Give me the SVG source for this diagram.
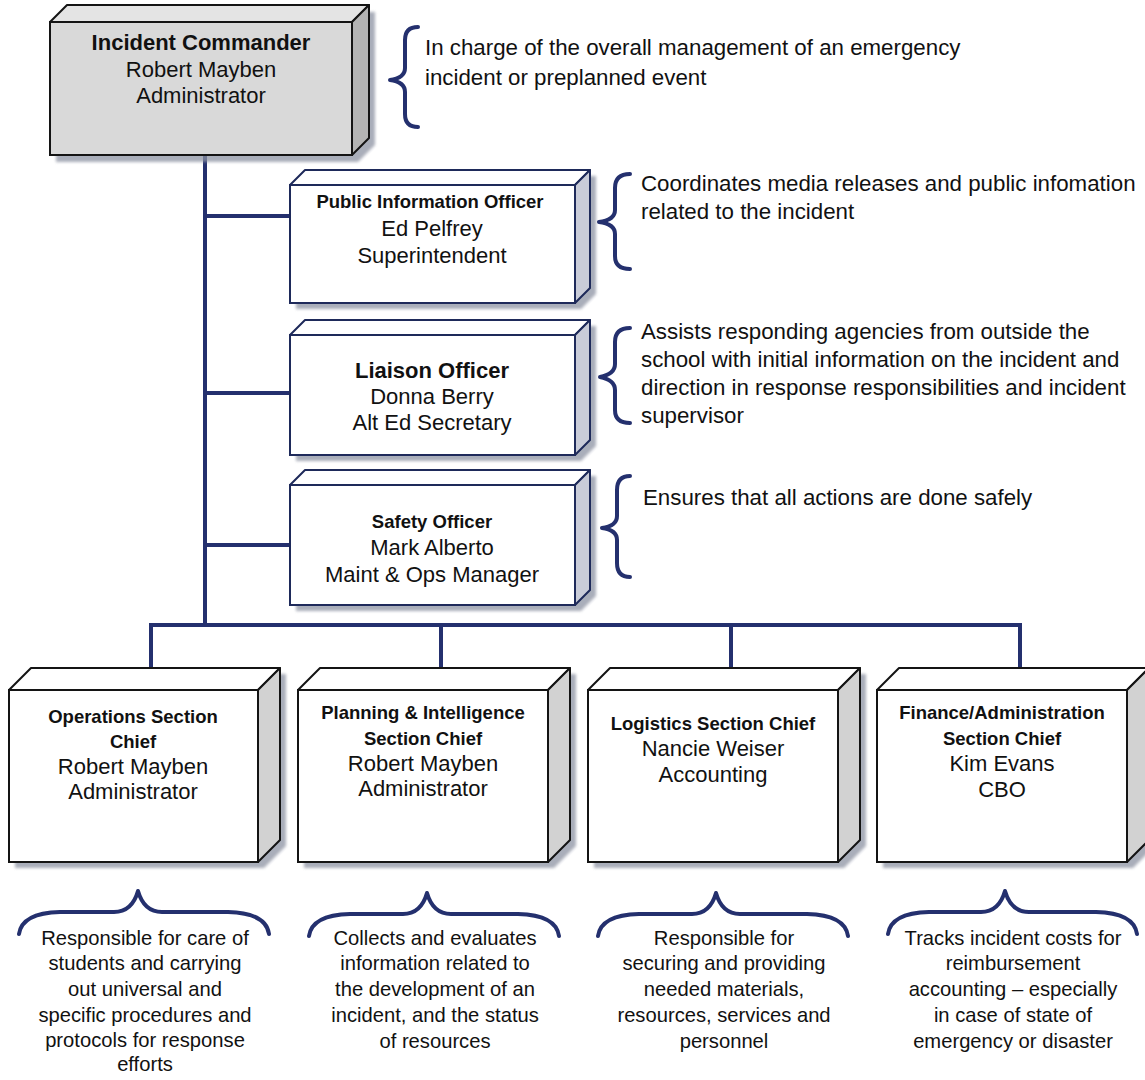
<svg xmlns="http://www.w3.org/2000/svg" width="1145" height="1080" viewBox="0 0 1145 1080">
<style>
text{font-family:"Liberation Sans",Arial,sans-serif;fill:#111}
.b{font-weight:bold;font-size:18.5px;text-anchor:middle}
.bl{font-weight:bold;font-size:22px;text-anchor:middle}
.n{font-size:22px;text-anchor:middle}
.d{font-size:22.3px}
.bd{font-size:20.2px;text-anchor:middle}
.front{fill:#fff;stroke:#141414;stroke-width:2}
.top{fill:#fff;stroke:#141414;stroke-width:2;stroke-linejoin:round}
.side{fill:#d2d2d2;stroke:#141414;stroke-width:2;stroke-linejoin:round}
.ofront{fill:#fff;stroke:#1e2a5a;stroke-width:2}
.otop{fill:#fff;stroke:#1e2a5a;stroke-width:2;stroke-linejoin:round}
.oside{fill:#c9ccd8;stroke:#1e2a5a;stroke-width:2;stroke-linejoin:round}
.shadow{fill:#8d93a3;opacity:0.75;filter:url(#blur)}
.conn{fill:none;stroke:#24306e;stroke-width:4}
.brace{fill:none;stroke:#24306e;stroke-width:4;stroke-linecap:round;stroke-linejoin:round}
</style>
<defs>
<filter id="blur" x="-10%" y="-10%" width="120%" height="120%"><feGaussianBlur stdDeviation="1.5"/></filter>
</defs>
<rect width="1145" height="1080" fill="#fff"/>

<g id="connectors">
<path class="conn" d="M205,155 V625"/>
<path class="conn" d="M205,216 H290"/>
<path class="conn" d="M205,393 H290"/>
<path class="conn" d="M205,545 H290"/>
<path class="conn" d="M151,668 V625 H1020 V668"/>
<path class="conn" d="M441,625 V668"/>
<path class="conn" d="M731,625 V668"/>
</g>

<g id="incident-commander">
<polygon class="shadow" points="56,29 73,12 375,12 375,145 358,162 56,162"/>
<polygon class="top" style="fill:#e4e4e4" points="50,22 67,5 369,5 352,22"/>
<polygon class="side" style="fill:#b4b4b4" points="352,22 369,5 369,138 352,155"/>
<rect class="front" style="fill:#d9d9d9" x="50" y="22" width="302" height="133"/>
<text class="bl" x="201" y="50">Incident Commander</text>
<text class="n" x="201" y="77">Robert Mayben</text>
<text class="n" x="201" y="103">Administrator</text>
</g>

<g id="public-information-officer">
<polygon class="shadow" points="296,191 311,176 596,176 596,294 581,309 296,309"/>
<polygon class="otop" points="290,185 305,170 590,170 575,185"/>
<polygon class="oside" points="575,185 590,170 590,288 575,303"/>
<rect class="ofront" x="290" y="185" width="285" height="118"/>
<text class="b" x="430" y="208">Public Information Officer</text>
<text class="n" x="432" y="236">Ed Pelfrey</text>
<text class="n" x="432" y="263">Superintendent</text>
</g>

<g id="liaison-officer">
<polygon class="shadow" points="296,341 311,326 596,326 596,446 581,461 296,461"/>
<polygon class="otop" points="290,335 305,320 590,320 575,335"/>
<polygon class="oside" points="575,335 590,320 590,440 575,455"/>
<rect class="ofront" x="290" y="335" width="285" height="120"/>
<text class="bl" x="432" y="378">Liaison Officer</text>
<text class="n" x="432" y="404">Donna Berry</text>
<text class="n" x="432" y="430">Alt Ed Secretary</text>
</g>

<g id="safety-officer">
<polygon class="shadow" points="296,491 311,476 596,476 596,596 581,611 296,611"/>
<polygon class="otop" points="290,485 305,470 590,470 575,485"/>
<polygon class="oside" points="575,485 590,470 590,590 575,605"/>
<rect class="ofront" x="290" y="485" width="285" height="120"/>
<text class="b" x="432" y="528">Safety Officer</text>
<text class="n" x="432" y="555">Mark Alberto</text>
<text class="n" x="432" y="582">Maint &amp; Ops Manager</text>
</g>

<g id="operations-section-chief">
<polygon class="shadow" points="15,696 37,674 286,674 286,846 264,868 15,868"/>
<polygon class="top" points="9,690 31,668 280,668 258,690"/>
<polygon class="side" points="258,690 280,668 280,840 258,862"/>
<rect class="front" x="9" y="690" width="249" height="172"/>
<text class="b" x="133" y="723">Operations Section</text>
<text class="b" x="133" y="748">Chief</text>
<text class="n" x="133" y="774">Robert Mayben</text>
<text class="n" x="133" y="799">Administrator</text>
</g>

<g id="planning-intelligence-section-chief">
<polygon class="shadow" points="304,696 326,674 576,674 576,846 554,868 304,868"/>
<polygon class="top" points="298,690 320,668 570,668 548,690"/>
<polygon class="side" points="548,690 570,668 570,840 548,862"/>
<rect class="front" x="298" y="690" width="250" height="172"/>
<text class="b" x="423" y="719">Planning &amp; Intelligence</text>
<text class="b" x="423" y="745">Section Chief</text>
<text class="n" x="423" y="771">Robert Mayben</text>
<text class="n" x="423" y="796">Administrator</text>
</g>

<g id="logistics-section-chief">
<polygon class="shadow" points="594,696 616,674 866,674 866,846 844,868 594,868"/>
<polygon class="top" points="588,690 610,668 860,668 838,690"/>
<polygon class="side" points="838,690 860,668 860,840 838,862"/>
<rect class="front" x="588" y="690" width="250" height="172"/>
<text class="b" x="713" y="730">Logistics Section Chief</text>
<text class="n" x="713" y="756">Nancie Weiser</text>
<text class="n" x="713" y="782">Accounting</text>
</g>

<g id="finance-administration-section-chief">
<polygon class="shadow" points="883,696 905,674 1155,674 1155,846 1133,868 883,868"/>
<polygon class="top" points="877,690 899,668 1149,668 1127,690"/>
<polygon class="side" points="1127,690 1149,668 1149,840 1127,862"/>
<rect class="front" x="877" y="690" width="250" height="172"/>
<text class="b" x="1002" y="719">Finance/Administration</text>
<text class="b" x="1002" y="745">Section Chief</text>
<text class="n" x="1002" y="771">Kim Evans</text>
<text class="n" x="1002" y="797">CBO</text>
</g>

<g id="incident-commander-note">
<path class="brace" d="M418,27 Q405,27 405,40 L405,68 Q405,78 390,80 Q405,82 405,92 L405,114 Q405,127 418,127"/>
<text class="d" x="425" y="55">In charge of the overall management of an emergency</text>
<text class="d" x="425" y="85">incident or preplanned event</text>
</g>

<g id="pio-note">
<path class="brace" d="M630,174 Q615,174 615,188 L615,210 Q615,220 599,222 Q615,224 615,234 L615,256 Q615,269 630,269"/>
<text class="d" x="641" y="191">Coordinates media releases and public infomation</text>
<text class="d" x="641" y="219">related to the incident</text>
</g>

<g id="liaison-note">
<path class="brace" d="M630,328 Q615,328 615,342 L615,364 Q615,374 600,377 Q615,380 615,390 L615,410 Q615,423 630,423"/>
<text class="d" x="641" y="339">Assists responding agencies from outside the</text>
<text class="d" x="641" y="367">school with initial information on the incident and</text>
<text class="d" x="641" y="395">direction in response responsibilities and incident</text>
<text class="d" x="641" y="423">supervisor</text>
</g>

<g id="safety-note">
<path class="brace" d="M630,476 Q617,476 617,490 L617,516 Q617,526 602,528 Q617,530 617,540 L617,563 Q617,577 630,577"/>
<text class="d" x="643" y="505">Ensures that all actions are done safely</text>
</g>

<g id="operations-note">
<path class="brace" d="M19,934 Q22,913 60,912 L114,912 Q132,912 138,891 Q144,912 162,912 L228,912 Q266,913 269,934"/>
<text class="bd" x="145" y="945">Responsible for care of</text>
<text class="bd" x="145" y="970">students and carrying</text>
<text class="bd" x="145" y="996">out universal and</text>
<text class="bd" x="145" y="1022">specific procedures and</text>
<text class="bd" x="145" y="1047">protocols for response</text>
<text class="bd" x="145" y="1071">efforts</text>
</g>

<g id="planning-note">
<path class="brace" d="M309,936 Q312,915 350,914 L403,914 Q421,914 427,893 Q433,914 451,914 L518,914 Q556,915 559,936"/>
<text class="bd" x="435" y="945">Collects and evaluates</text>
<text class="bd" x="435" y="970">information related to</text>
<text class="bd" x="435" y="996">the development of an</text>
<text class="bd" x="435" y="1022">incident, and the status</text>
<text class="bd" x="435" y="1048">of resources</text>
</g>

<g id="logistics-note">
<path class="brace" d="M598,936 Q601,915 639,914 L692,914 Q710,914 716,893 Q722,914 740,914 L807,914 Q845,915 848,936"/>
<text class="bd" x="724" y="945">Responsible for</text>
<text class="bd" x="724" y="970">securing and providing</text>
<text class="bd" x="724" y="996">needed materials,</text>
<text class="bd" x="724" y="1022">resources, services and</text>
<text class="bd" x="724" y="1048">personnel</text>
</g>

<g id="finance-note">
<path class="brace" d="M888,934 Q891,913 929,912 L981,912 Q999,912 1005,891 Q1011,912 1029,912 L1096,912 Q1134,913 1137,934"/>
<text class="bd" x="1013" y="945">Tracks incident costs for</text>
<text class="bd" x="1013" y="970">reimbursement</text>
<text class="bd" x="1013" y="996">accounting – especially</text>
<text class="bd" x="1013" y="1022">in case of state of</text>
<text class="bd" x="1013" y="1048">emergency or disaster</text>
</g>
</svg>
